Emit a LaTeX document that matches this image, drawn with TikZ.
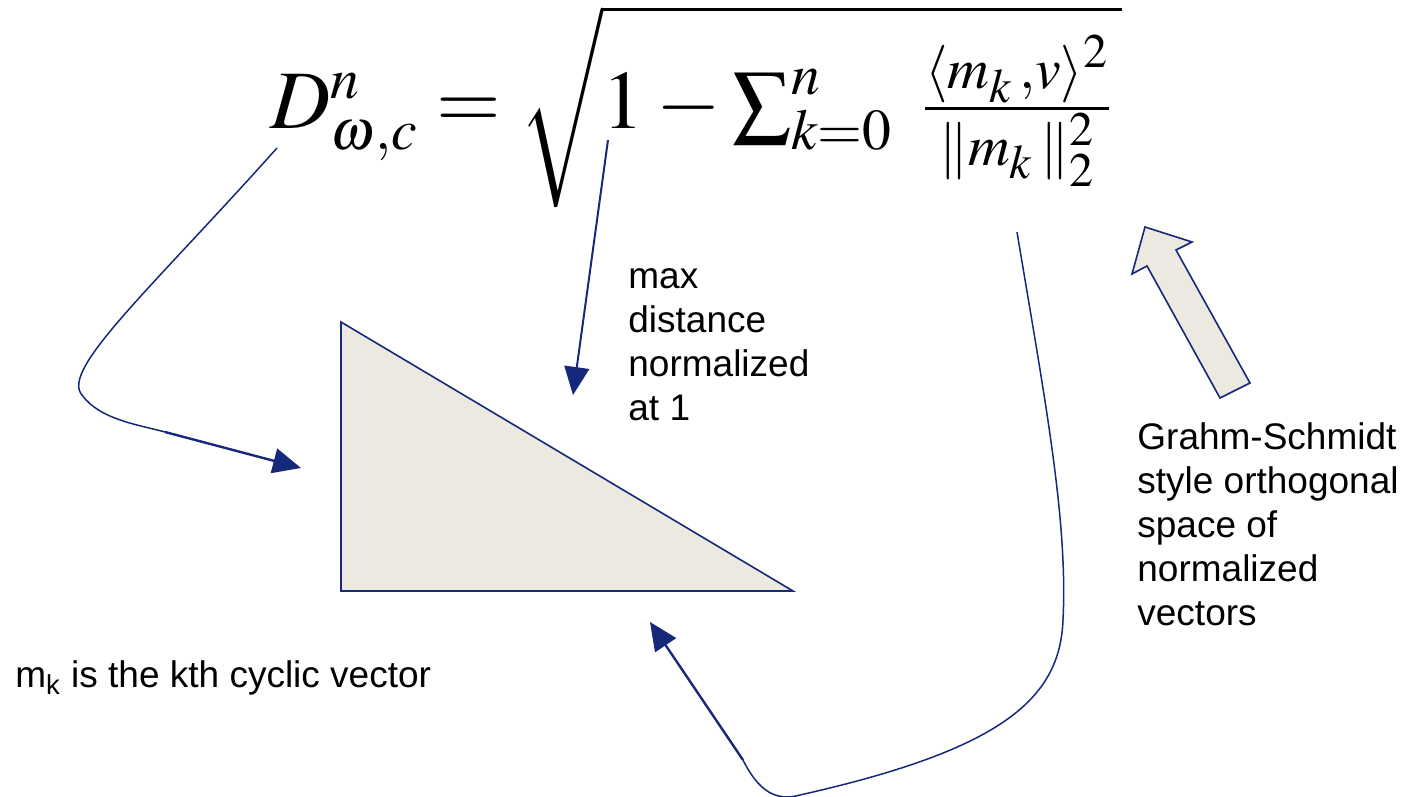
\documentclass[tikz,border=0pt]{standalone}
\usepackage{amsmath}
\usepackage{mathptmx}
\usepackage{fontspec}
\newfontfamily\arialfont{Liberation Sans}
\usetikzlibrary{arrows.meta}
\definecolor{navy}{RGB}{22,40,122}
\definecolor{beige}{RGB}{236,233,224}
\tikzset{
  conn/.style={draw=navy, line width=0.75pt},
  arr/.style={draw=navy, line width=1.2pt, -{Triangle[length=14pt,width=12.5pt]}},
  lbl/.style={font=\arialfont\fontsize{18.5}{22}\selectfont, align=left, inner sep=0pt, anchor=base west},
  shapefill/.style={draw=navy, fill=beige, line width=0.8pt, line join=miter}
}
\begin{document}
\begin{tikzpicture}[x=0.5pt,y=-0.5pt]
\useasboundingbox (0,0) rectangle (1415,797);
% formula
\node[inner sep=0pt, anchor=base west, scale=1.67, transform shape] (formula) at (270,129)
  {\Huge $D^{n}_{\omega,c} = \sqrt{1-\sum_{k=0}^{n}\;\tfrac{\langle m_k\,,v\rangle^{2}}{\|m_k\,\|_2^{2}}\,}$};
% triangle
\coordinate (tA) at (341,322);
\coordinate (tB) at (341,591);
\coordinate (tC) at (793,591);
\draw[shapefill] (tA) -- (tB) -- (tC) -- cycle;
% block arrow
\draw[shapefill] (1145,227) -- (1192,242) -- (1176,250) -- (1250,383) -- (1220,398) -- (1147,266) -- (1132,274) -- cycle;
% labels (base anchor = baseline of the last line)
\node[lbl] (maxlbl) at (628,420) {max\\distance\\normalized\\at 1};
\node[lbl] (gslbl) at (1137,625) {Grahm-Schmidt\\style orthogonal\\space of\\normalized\\vectors};
\node[lbl] (mklbl) at (15,687) {m\textsubscript{k} is the kth cyclic vector};
% connectors
\coordinate (s1) at (277,148);
\coordinate (k1) at (165,432);
\coordinate (e1) at (301,468);
\draw[conn] (s1) .. controls (150,290) and (60,370) .. (82,395) .. controls (100,420) and (140,425) .. (k1);
\draw[arr] (k1) -- (e1);
\coordinate (s2) at (608,140);
\coordinate (e2) at (573,395);
\draw[arr, line width=1pt] (s2) -- (e2);
\coordinate (s3) at (1017,232);
\coordinate (k3) at (743,760);
\coordinate (e3) at (650,622);
\draw[conn] (s3) .. controls (1045,400) and (1068,520) .. (1063,620) .. controls (1060,700) and (1000,750) .. (800,795) .. controls (775,802) and (758,790) .. (k3);
\draw[arr] (k3) -- (e3);
\end{tikzpicture}
\end{document}
